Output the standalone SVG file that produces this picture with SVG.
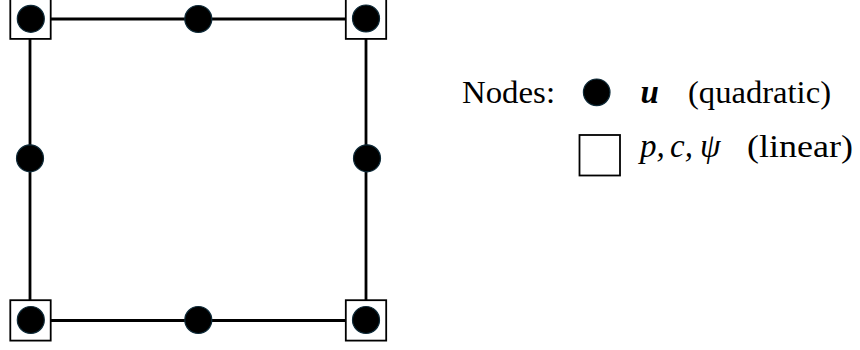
<svg xmlns="http://www.w3.org/2000/svg" width="860" height="350" viewBox="0 0 860 350">
  <style>
    .edge { stroke: #000; stroke-width: 2.8; fill: none; }
    .sq { fill: #fff; stroke: #000; stroke-width: 1.8; }
    .dot { fill: #000; stroke: #0e2a38; stroke-width: 1.2; }
    .txt { font-family: "Liberation Serif", "Times New Roman", serif; font-size: 32px; fill: #000; }
    .math { font-family: "Liberation Serif", "Times New Roman", serif; font-size: 33px; font-style: italic; fill: #000; }
  </style>
  <rect width="860" height="350" fill="#fff"/>
  <g id="connectors">
    <line class="edge" x1="30" y1="19" x2="366" y2="19"/>
    <line class="edge" x1="30" y1="320.5" x2="366" y2="320.5"/>
    <line class="edge" x1="30" y1="19" x2="30" y2="320.5"/>
    <line class="edge" x1="366" y1="19" x2="366" y2="320.5"/>
  </g>
  <g id="node-tl">
    <rect class="sq" x="10.3" y="-1.5" width="40.4" height="40.4"/>
    <circle class="dot" cx="30.8" cy="18.8" r="13.5"/>
  </g>
  <g id="node-tm">
    <circle class="dot" cx="198.3" cy="19" r="13.5"/>
  </g>
  <g id="node-tr">
    <rect class="sq" x="345.8" y="-1.5" width="40.4" height="40.4"/>
    <circle class="dot" cx="366" cy="18.5" r="13.5"/>
  </g>
  <g id="node-ml">
    <circle class="dot" cx="30" cy="158.3" r="13.5"/>
  </g>
  <g id="node-mr">
    <circle class="dot" cx="367" cy="158.3" r="13.5"/>
  </g>
  <g id="node-bl">
    <rect class="sq" x="10.3" y="300.2" width="40.4" height="40.4"/>
    <circle class="dot" cx="30.8" cy="320" r="13.5"/>
  </g>
  <g id="node-bm">
    <circle class="dot" cx="198.3" cy="320" r="13.5"/>
  </g>
  <g id="node-br">
    <rect class="sq" x="345.8" y="300.2" width="40.4" height="40.4"/>
    <circle class="dot" cx="366" cy="320" r="13.5"/>
  </g>
  <g id="legend">
    <text class="txt" x="462" y="103.3" textLength="93" lengthAdjust="spacingAndGlyphs">Nodes:</text>
    <circle class="dot" cx="596.7" cy="92.3" r="13.3"/>
    <text class="math" x="640.5" y="103.3" font-weight="bold" font-size="35">u</text>
    <text class="txt" x="688" y="103.3" textLength="143" lengthAdjust="spacingAndGlyphs">(quadratic)</text>
    <rect class="sq" x="579.5" y="135" width="40.5" height="40.5"/>
    <text class="math" y="157"><tspan x="640">p,</tspan><tspan x="670">c,</tspan><tspan x="700">ψ</tspan></text>
    <text class="txt" x="747" y="157" textLength="106" lengthAdjust="spacingAndGlyphs">(linear)</text>
  </g>
</svg>
